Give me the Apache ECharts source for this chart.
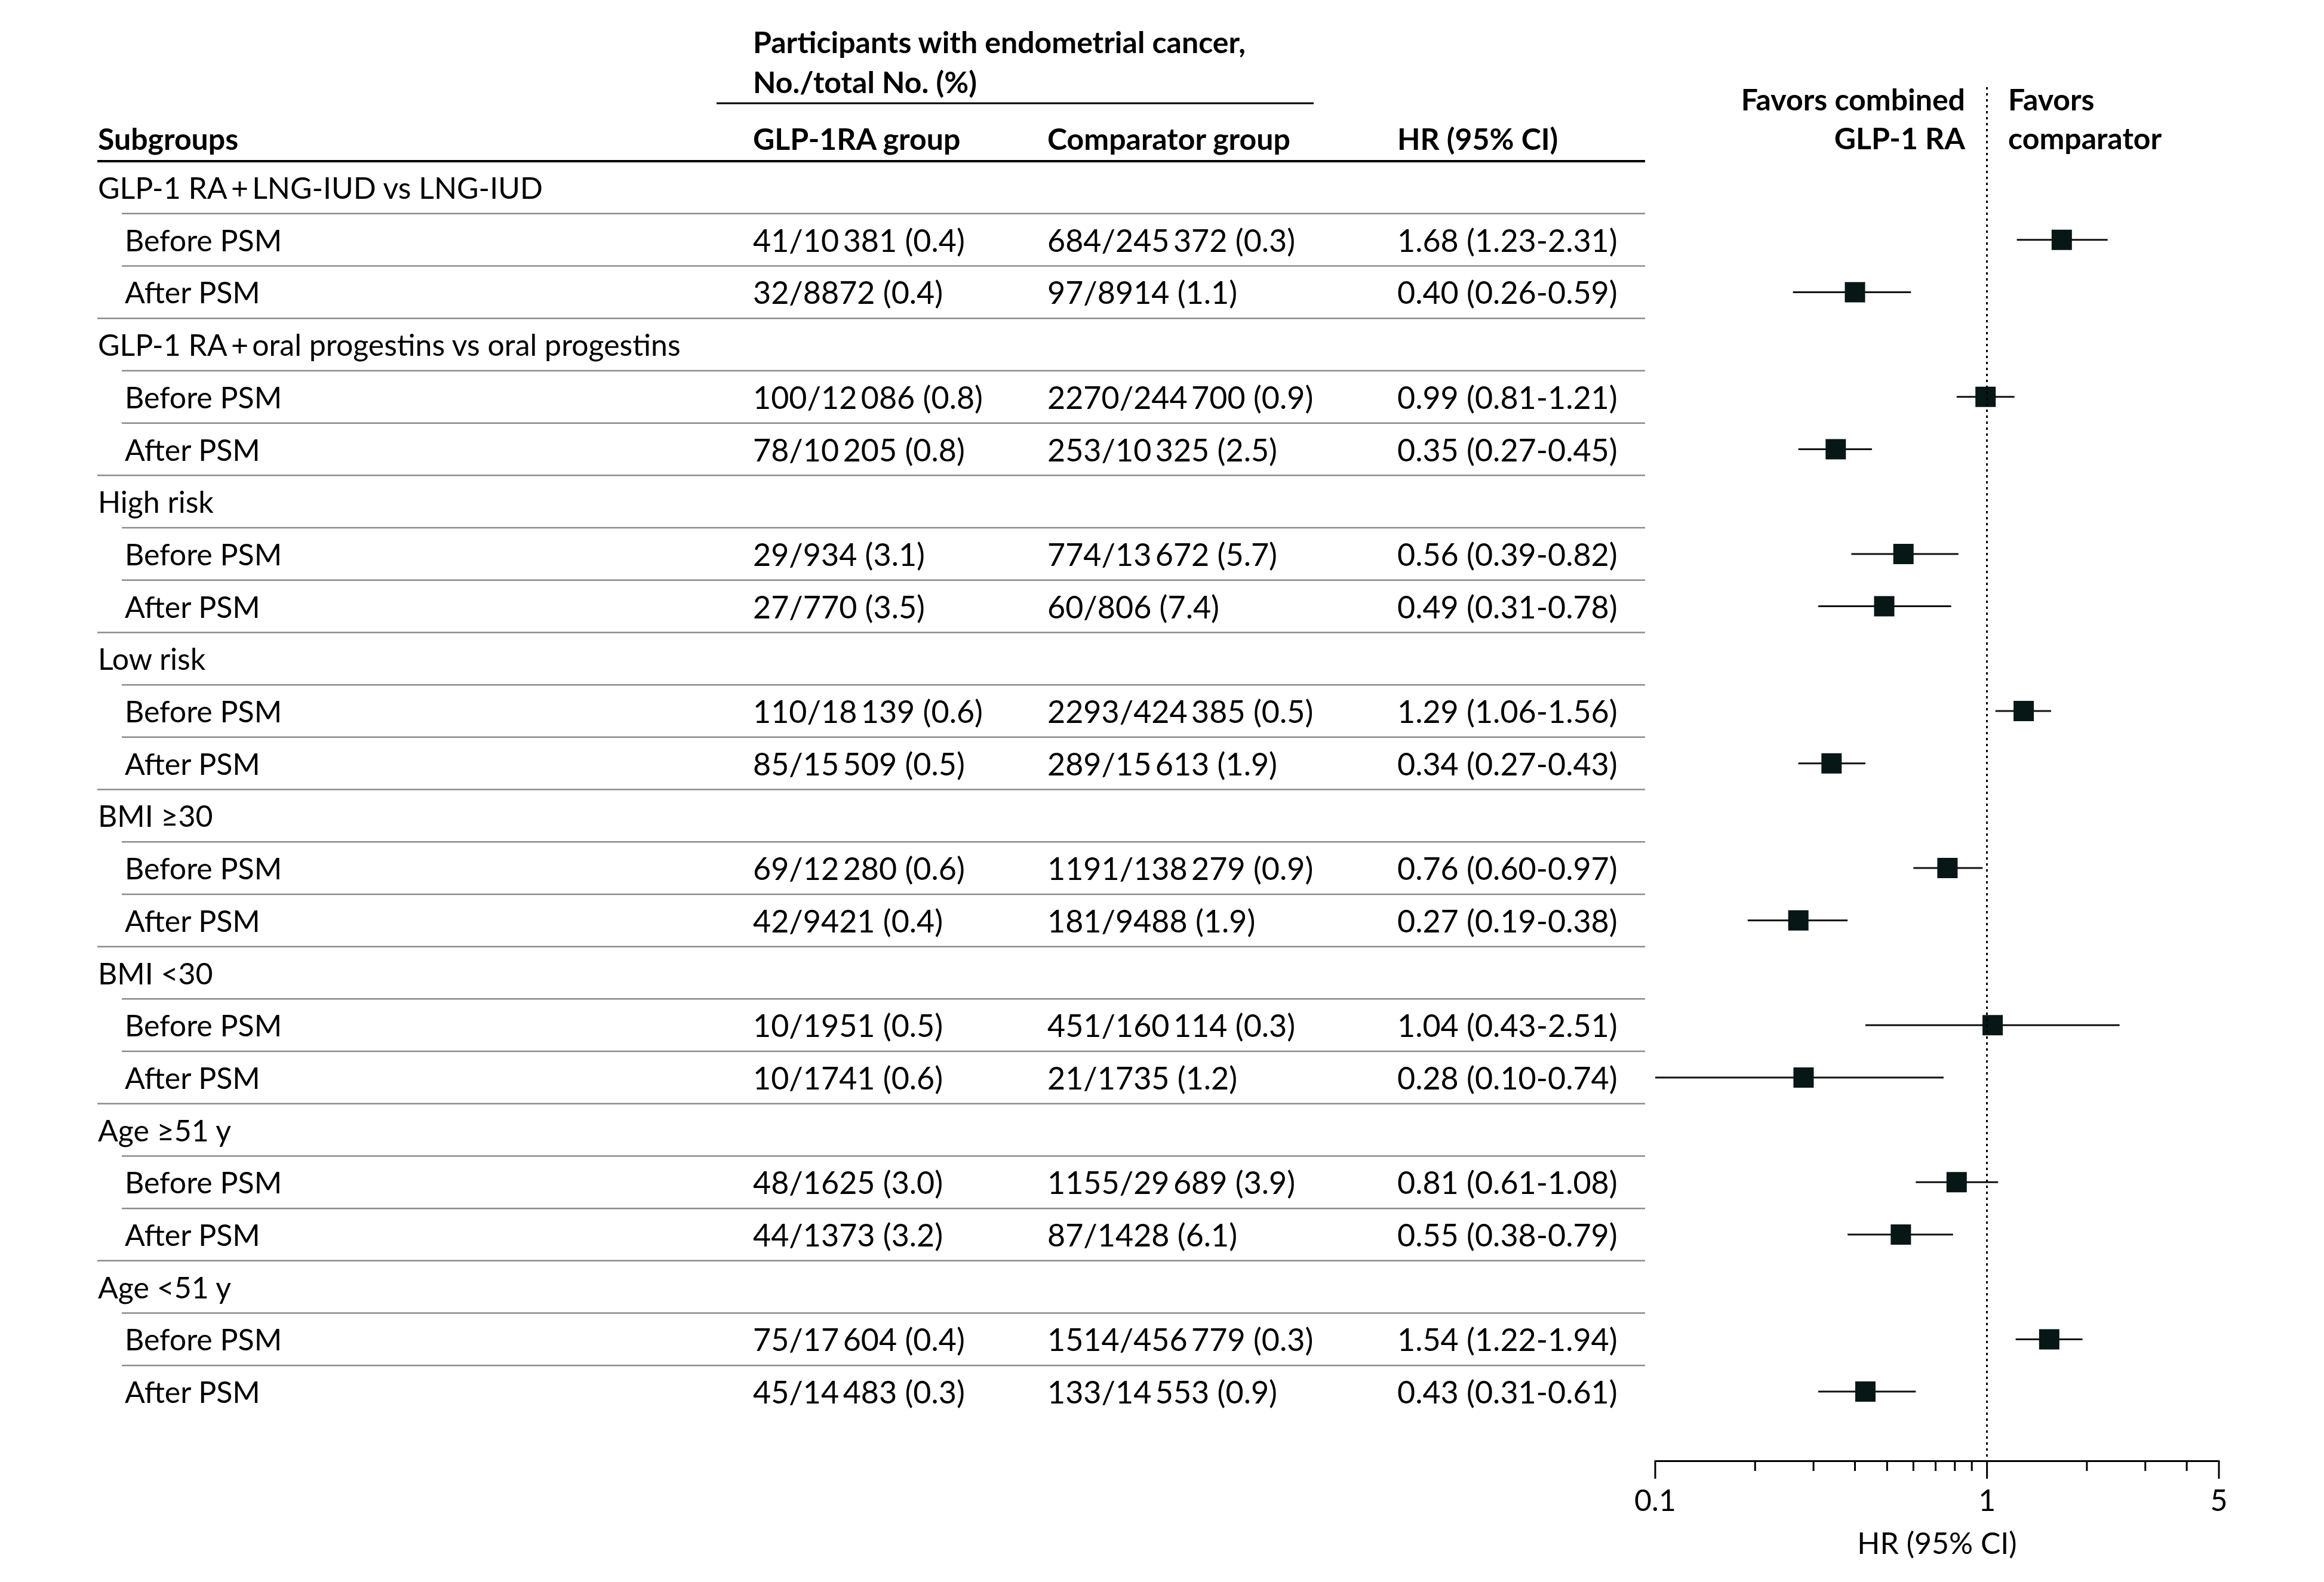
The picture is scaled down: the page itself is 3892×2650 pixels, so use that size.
<!DOCTYPE html>
<html>
<head>
<meta charset="utf-8">
<script src="https://cdn.jsdelivr.net/npm/echarts@6/dist/echarts.min.js"></script>
<style>
html,body{margin:0;padding:0;background:#fff;}
#chart{width:3892px;height:2650px;}
</style>
</head>
<body>
<div id="chart"></div>
<script>
// ---------------- DATA ----------------
const groupLabels = [
  'GLP-1 RA\u2009+\u2009LNG-IUD vs LNG-IUD',
  'GLP-1 RA\u2009+\u2009oral progestins vs oral progestins',
  'High risk',
  'Low risk',
  'BMI \u226530',
  'BMI <30',
  'Age \u226551 y',
  'Age <51 y'
];
const phaseLabels = ['Before PSM', 'After PSM'];
const glpCounts = [
  '41/10\u2009381 (0.4)', '32/8872 (0.4)',
  '100/12\u2009086 (0.8)', '78/10\u2009205 (0.8)',
  '29/934 (3.1)', '27/770 (3.5)',
  '110/18\u2009139 (0.6)', '85/15\u2009509 (0.5)',
  '69/12\u2009280 (0.6)', '42/9421 (0.4)',
  '10/1951 (0.5)', '10/1741 (0.6)',
  '48/1625 (3.0)', '44/1373 (3.2)',
  '75/17\u2009604 (0.4)', '45/14\u2009483 (0.3)'
];
const compCounts = [
  '684/245\u2009372 (0.3)', '97/8914 (1.1)',
  '2270/244\u2009700 (0.9)', '253/10\u2009325 (2.5)',
  '774/13\u2009672 (5.7)', '60/806 (7.4)',
  '2293/424\u2009385 (0.5)', '289/15\u2009613 (1.9)',
  '1191/138\u2009279 (0.9)', '181/9488 (1.9)',
  '451/160\u2009114 (0.3)', '21/1735 (1.2)',
  '1155/29\u2009689 (3.9)', '87/1428 (6.1)',
  '1514/456\u2009779 (0.3)', '133/14\u2009553 (0.9)'
];
const hrValues = [1.68, 0.40, 0.99, 0.35, 0.56, 0.49, 1.29, 0.34, 0.76, 0.27, 1.04, 0.28, 0.81, 0.55, 1.54, 0.43];
const ciLower  = [1.23, 0.26, 0.81, 0.27, 0.39, 0.31, 1.06, 0.27, 0.60, 0.19, 0.43, 0.10, 0.61, 0.38, 1.22, 0.31];
const ciUpper  = [2.31, 0.59, 1.21, 0.45, 0.82, 0.78, 1.56, 0.43, 0.97, 0.38, 2.51, 0.74, 1.08, 0.79, 1.94, 0.61];
const axisTickValues = [0.1, 0.2, 0.3, 0.4, 0.5, 0.6, 0.7, 0.8, 0.9, 1, 2, 3, 4, 5];
const axisLabelValues = [0.1, 1, 5];
const headerTitle = ['Participants with endometrial cancer,', 'No./total No. (%)'];
const columnHeaders = ['Subgroups', 'GLP-1RA group', 'Comparator group', 'HR (95% CI)'];
const favorLeft = ['Favors combined', 'GLP-1 RA'];
const favorRight = ['Favors', 'comparator'];
const axisTitle = 'HR (95% CI)';
const referenceHR = 1;

// ---------------- LAYOUT ----------------
const FONT = 'Lato, "Open Sans", "DejaVu Sans", sans-serif';
const FS = 50;
const FS_NUM = 52;
const TXT = '#000';
const TOP = 146, AXIS_Y = 2447, ROW0_Y = 314, ROW_H = 87.7;
const ROW_MIN = (TOP - ROW0_Y) / ROW_H;
const ROW_MAX = (AXIS_Y - ROW0_Y) / ROW_H;
const PLOT_LEFT = 2772, PLOT_RIGHT = 3716;
const COL_X = [164, 1261, 1754, 2340];
const SUB_X = 209;
const TABLE_RIGHT = 2755;
const LINE_FULL_X = 163, LINE_INDENT_X = 204;

const fmt = v => v.toFixed(2);

// build table rows
const rows = [];
groupLabels.forEach((g, gi) => {
  rows.push({ kind: 'group', label: g });
  phaseLabels.forEach((p, pi) => {
    const k = gi * 2 + pi;
    rows.push({
      kind: 'sub', phase: pi, label: p,
      glp: glpCounts[k], comp: compCounts[k],
      hr: fmt(hrValues[k]) + ' (' + fmt(ciLower[k]) + '-' + fmt(ciUpper[k]) + ')'
    });
  });
});
const rowOf = k => Math.floor(k / 2) * 3 + 1 + (k % 2);
const ciData = hrValues.map((h, k) => [ciLower[k], ciUpper[k], rowOf(k)]);
const pointData = hrValues.map((h, k) => [h, rowOf(k)]);

const chart = echarts.init(document.getElementById('chart'), null, { renderer: 'svg', width: 3892, height: 2650 });

function textEl(x, y, s, opts) {
  opts = opts || {};
  return {
    type: 'text', x: x, y: y,
    style: {
      text: s, fill: TXT, fontSize: opts.size || FS, fontFamily: FONT,
      fontWeight: opts.bold ? 'bold' : 'normal',
      align: opts.align || 'left', verticalAlign: 'middle'
    }
  };
}

const graphics = [];
graphics.push(textEl(COL_X[1], 70, headerTitle[0], { bold: true }));
graphics.push(textEl(COL_X[1], 137, headerTitle[1], { bold: true }));
graphics.push({ type: 'line', shape: { x1: 1200, y1: 173, x2: 2200, y2: 173 }, style: { stroke: '#000', lineWidth: 3 } });
columnHeaders.forEach((h, i) => graphics.push(textEl(COL_X[i], 232, h, { bold: true })));
graphics.push({ type: 'line', shape: { x1: LINE_FULL_X, y1: 270, x2: TABLE_RIGHT, y2: 270 }, style: { stroke: '#000', lineWidth: 4 } });
graphics.push(textEl(3291, 166, favorLeft[0], { bold: true, align: 'right' }));
graphics.push(textEl(3291, 231, favorLeft[1], { bold: true, align: 'right' }));
graphics.push(textEl(3363, 166, favorRight[0], { bold: true }));
graphics.push(textEl(3363, 231, favorRight[1], { bold: true }));

const option = {
  backgroundColor: '#fff',
  animation: false,
  graphic: graphics,
  grid: [
    { left: 0, right: 0, top: TOP, bottom: 2650 - AXIS_Y },
    { left: PLOT_LEFT, right: 3892 - PLOT_RIGHT, top: TOP, bottom: 2650 - AXIS_Y }
  ],
  xAxis: [
    { gridIndex: 0, type: 'value', min: 0, max: 3892, show: false },
    {
      gridIndex: 1, type: 'log', logBase: 10, min: 0.1, max: 5,
      axisLine: { show: true, onZero: false, lineStyle: { color: '#000', width: 3 } },
      axisTick: { show: false }, axisLabel: { show: false }, splitLine: { show: false },
      name: axisTitle, nameLocation: 'middle', nameGap: 112,
      nameTextStyle: { fontSize: FS, fontFamily: FONT, color: TXT }
    }
  ],
  yAxis: [
    { gridIndex: 0, type: 'value', min: ROW_MIN, max: ROW_MAX, inverse: true, show: false },
    { gridIndex: 1, type: 'value', min: ROW_MIN, max: ROW_MAX, inverse: true, show: false }
  ],
  series: [
    {
      type: 'custom', xAxisIndex: 0, yAxisIndex: 0, silent: true,
      data: rows.map((r, i) => [0, i]),
      encode: { x: 0, y: 1 },
      renderItem: function (params, api) {
        const i = params.dataIndex;
        const r = rows[i];
        const y = api.coord([0, i])[1];
        const children = [];
        if (r.kind === 'group') {
          children.push(textEl(COL_X[0], y, r.label));
        } else {
          children.push(textEl(SUB_X, y, r.label));
          children.push(textEl(COL_X[1], y, r.glp, { size: FS_NUM }));
          children.push(textEl(COL_X[2], y, r.comp, { size: FS_NUM }));
          children.push(textEl(COL_X[3], y, r.hr, { size: FS_NUM }));
        }
        if (i < rows.length - 1) {
          const yl = api.coord([0, i + 0.5])[1];
          const x0 = (r.kind === 'sub' && r.phase === 1) ? LINE_FULL_X : LINE_INDENT_X;
          children.push({ type: 'line', shape: { x1: x0, y1: yl, x2: TABLE_RIGHT, y2: yl }, style: { stroke: '#8a8a8a', lineWidth: 2.5 } });
        }
        return { type: 'group', children: children };
      }
    },
    {
      type: 'scatter', xAxisIndex: 1, yAxisIndex: 1, silent: true, z: 1,
      data: [], symbolSize: 0,
      markLine: {
        silent: true, symbol: ['none', 'none'], label: { show: false },
        lineStyle: { type: [4, 6], width: 3, color: '#000' },
        data: [{ xAxis: referenceHR }]
      }
    },
    {
      type: 'custom', xAxisIndex: 1, yAxisIndex: 1, silent: true, z: 2,
      data: ciData,
      encode: { x: [0, 1], y: 2 },
      renderItem: function (params, api) {
        const p1 = api.coord([api.value(0), api.value(2)]);
        const p2 = api.coord([api.value(1), api.value(2)]);
        return { type: 'line', shape: { x1: p1[0], y1: p1[1], x2: p2[0], y2: p2[1] }, style: { stroke: '#111', lineWidth: 3 } };
      }
    },
    {
      type: 'scatter', xAxisIndex: 1, yAxisIndex: 1, silent: true, z: 3,
      data: pointData, symbol: 'rect', symbolSize: 34,
      itemStyle: { color: '#061716', opacity: 1 }
    },
    {
      type: 'custom', xAxisIndex: 1, yAxisIndex: 1, silent: true, z: 2,
      data: axisTickValues.map(v => [v, 0]),
      encode: { x: 0, y: 1 },
      renderItem: function (params, api) {
        const v = axisTickValues[params.dataIndex];
        const x = api.coord([v, 0])[0];
        const yb = params.coordSys.y + params.coordSys.height;
        const major = axisLabelValues.indexOf(v) >= 0;
        const children = [{ type: 'line', shape: { x1: x, y1: yb, x2: x, y2: yb + (major ? 30 : 17) }, style: { stroke: '#000', lineWidth: 3 } }];
        if (major) children.push(textEl(x, yb + 65, String(v), { align: 'center' }));
        return { type: 'group', children: children };
      }
    }
  ]
};
chart.setOption(option);
</script>
</body>
</html>
